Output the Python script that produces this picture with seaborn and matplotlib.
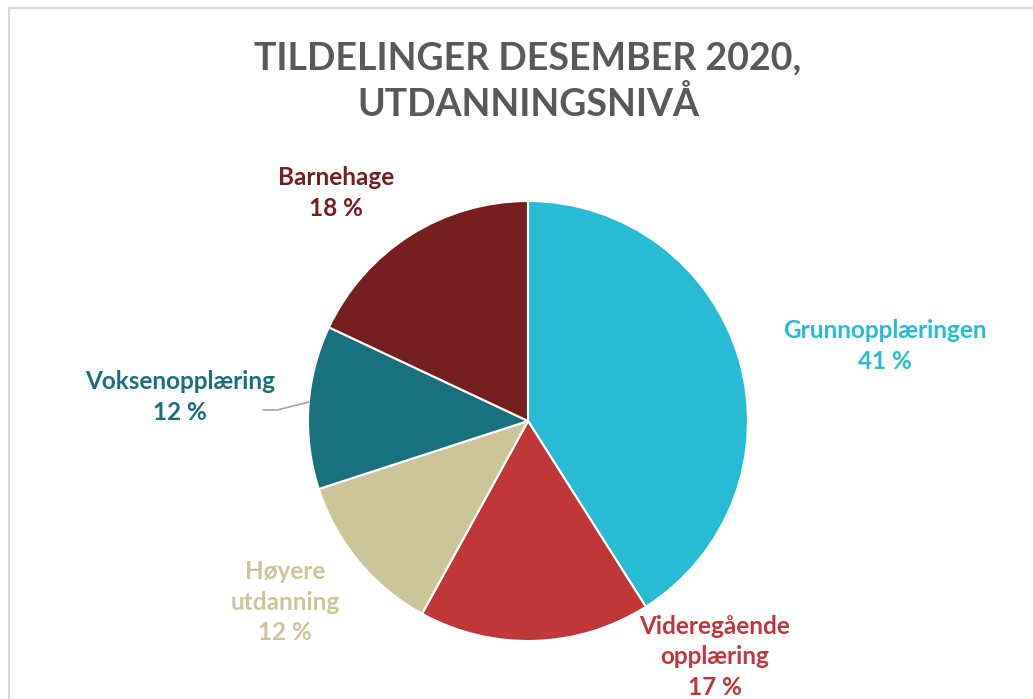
import matplotlib
matplotlib.use("Agg")
import matplotlib.pyplot as plt
import seaborn as sns
from matplotlib.patches import Rectangle

# Data
categories = ["Grunnopplæringen", "Videregående\nopplæring", "Høyere\nutdanning",
              "Voksenopplæring", "Barnehage"]
shares = [41, 17, 12, 12, 18]
colors = ["#27BCD3", "#C0373A", "#CCC59A", "#1A717E", "#761F21"]

sns.set_theme(style="white")
plt.rcParams["font.family"] = ["Lato", "DejaVu Sans"]

W, H = 1033, 699
fig = plt.figure(figsize=(W / 100, H / 100), dpi=100)

# pie centre and radius in pixels
cx, cy, r = 528, 421, 220
ax = fig.add_axes([(cx - r) / W, (H - cy - r) / H, 2 * r / W, 2 * r / H])
ax.pie(shares, colors=colors, startangle=90, counterclock=False, radius=1,
       wedgeprops=dict(edgecolor="white", linewidth=1.5))
ax.set_xlim(-1, 1)
ax.set_ylim(-1, 1)
ax.set_aspect("equal")
ax.axis("off")


def to_data(px, py):
    return (px - cx) / r, (cy - py) / r


# label positions (pixel centres of the text block)
label_pos = [(885, 346), (715, 657), (285, 602), (180, 397), (336, 193)]
for name, val, col, (px, py) in zip(categories, shares, colors, label_pos):
    x, y = to_data(px, py)
    ax.text(x, y, f"{name}\n{val} %", color=col, fontsize=17.5, fontweight="bold",
            ha="center", va="center", linespacing=1.42, clip_on=False)

# leader line for Voksenopplæring
p0 = to_data(263, 410)
p1 = to_data(277, 410)
p2 = to_data(309, 402)
ax.plot([p0[0], p1[0], p2[0]], [p0[1], p1[1], p2[1]], color="#A6A6A6",
        linewidth=1.2, clip_on=False)

fig.text(cx / W, 1 - 82 / H, "TILDELINGER DESEMBER 2020,\nUTDANNINGSNIVÅ",
         ha="center", va="center", fontsize=27, fontweight="bold",
         color="#595959", linespacing=1.35)

# chart border
fig.patches.append(Rectangle((9 / W, -0.1), 1.2, 1 - 8 / H + 0.1,
                             transform=fig.transFigure, fill=False,
                             edgecolor="#D9D9D9", linewidth=1.5))

fig.savefig("out.png", dpi=100, facecolor="white")
